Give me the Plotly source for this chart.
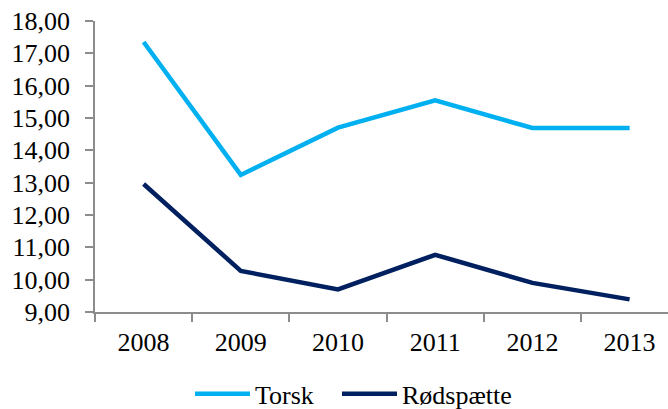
import plotly.graph_objects as go

years = ["2008", "2009", "2010", "2011", "2012", "2013"]
torsk = [17.35, 13.24, 14.70, 15.55, 14.69, 14.69]
rodspaette = [12.96, 10.27, 9.70, 10.77, 9.90, 9.39]
series_names = ["Torsk", "Rødspætte"]
colors = ["#00B0F0", "#002060"]

FONT = "Liberation Serif"

fig = go.Figure()
for i, (name, vals, col) in enumerate(zip(series_names, [torsk, rodspaette], colors)):
    fig.add_trace(go.Scatter(
        x=years, y=vals, name=name, mode="lines",
        line=dict(color=col, width=4.5), cliponaxis=False,
        legend="legend" if i == 0 else "legend2",
    ))

leg_common = dict(orientation="h", xref="container", yref="container",
                  xanchor="left", y=0.037, yanchor="middle",
                  font=dict(family=FONT, size=26, color="black"), itemwidth=55)

fig.update_layout(
    width=668, height=409,
    margin=dict(l=95, r=0, t=21, b=97, autoexpand=False),
    paper_bgcolor="white", plot_bgcolor="white",
    separators=",.",
    font=dict(family=FONT, size=26, color="black"),
    showlegend=True,
    legend=dict(x=190 / 668, **leg_common),
    legend2=dict(x=337 / 668, **leg_common),
)
fig.update_xaxes(
    type="category", range=[-0.5, 5.395], automargin=False,
    showline=True, linecolor="#8C8C8C", linewidth=1.5,
    ticks="outside", ticklen=8, tickcolor="#8C8C8C", tickwidth=1.5,
    tickson="boundaries", showgrid=False, zeroline=False,
    ticklabelstandoff=6,
    tickfont=dict(family=FONT, size=26, color="black"),
)
fig.update_yaxes(
    range=[9, 18], dtick=1, tick0=9, tickformat=".2f", automargin=False,
    showline=True, linecolor="#8C8C8C", linewidth=1.5,
    ticks="outside", ticklen=8, tickcolor="#8C8C8C", tickwidth=1.5,
    showgrid=False, zeroline=False,
    ticklabelstandoff=10,
    tickfont=dict(family=FONT, size=26, color="black"),
)

fig.write_html("out.html", config={"displayModeBar": False},
               post_script="document.body.style.margin='0';document.body.style.overflow='hidden';")
